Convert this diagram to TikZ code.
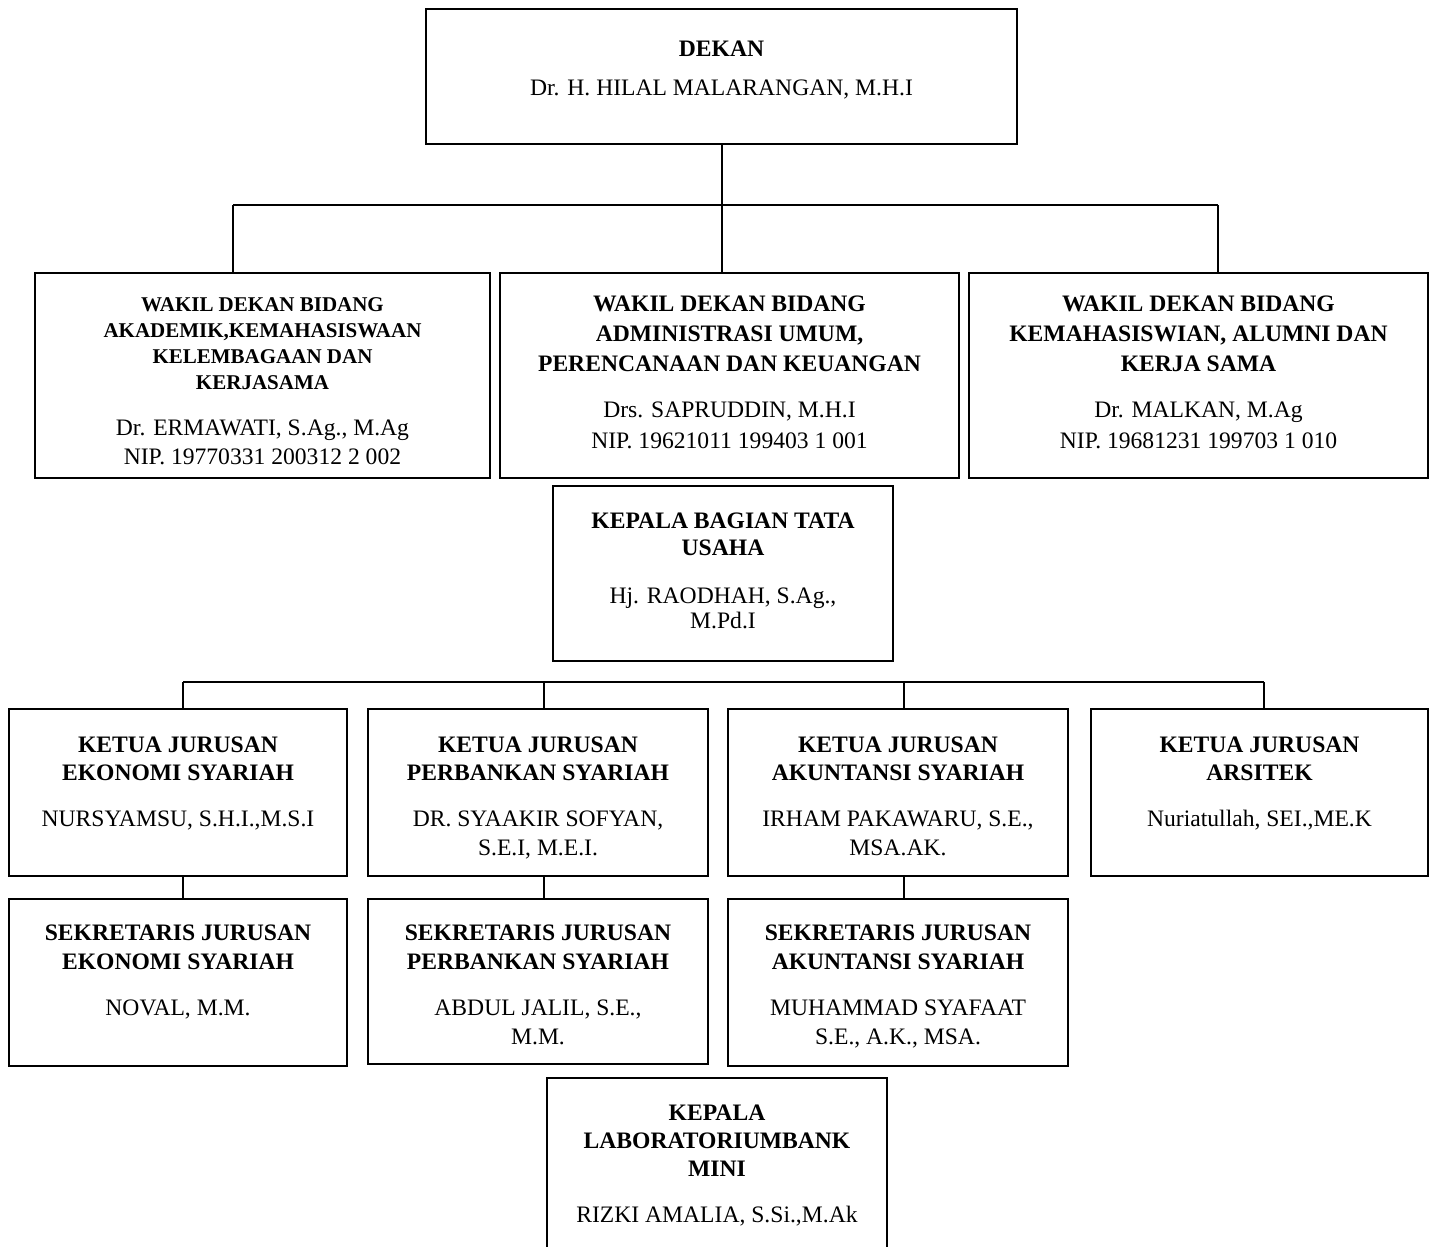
\documentclass[tikz,border=0pt]{standalone}
\usepackage{fontspec}
\setmainfont{Liberation Serif}
\usetikzlibrary{positioning}

% box with text hanging from the top: width, height, first baseline, text
\newcommand{\kotak}[4]{\parbox[c][#2][t]{#1}{\centering\rule{0pt}{#3}#4}}

\begin{document}
\begin{tikzpicture}[x=0.5pt,y=-0.5pt,line width=1pt,
	box/.style={draw,line width=1pt,inner sep=0pt,anchor=north west,
		font=\fontsize{11.8pt}{13pt}\selectfont},
	wire/.style={line width=1pt}]
	\useasboundingbox (0,0) rectangle (1435,1247);
	\clip (0,0) rectangle (1435,1247);

	\node[box] (dekan) at (425,8) {\kotak{295.5pt}{67.5pt}{23.9pt}{%
		\textbf{DEKAN}\\[6.5pt]
		Dr. H. HILAL MALARANGAN, M.H.I}};

	\node[box] (wdA) at (34,272) {\kotak{227.5pt}{102.5pt}{19pt}{%
		{\fontsize{10.5pt}{13pt}\selectfont\bfseries WAKIL DEKAN BIDANG\\
		AKADEMIK,KEMAHASISWAAN\\
		KELEMBAGAAN DAN\\
		KERJASAMA}\\[10.2pt]
		Dr. ERMAWATI, S.Ag., M.Ag\\[1.3pt]
		NIP. 19770331 200312 2 002}};
	\node[box] (wdB) at (499,272) {\kotak{229.5pt}{102.5pt}{19.4pt}{%
		\textbf{WAKIL DEKAN BIDANG\\[2pt]
		ADMINISTRASI UMUM,\\[2pt]
		PERENCANAAN DAN KEUANGAN}\\[10pt]
		Drs. SAPRUDDIN, M.H.I\\[2.3pt]
		NIP. 19621011 199403 1 001}};
	\node[box] (wdC) at (968,272) {\kotak{229.5pt}{102.5pt}{19.4pt}{%
		\textbf{WAKIL DEKAN BIDANG\\[2pt]
		KEMAHASISWIAN, ALUMNI DAN\\[2pt]
		KERJA SAMA}\\[10pt]
		Dr. MALKAN, M.Ag\\[2.3pt]
		NIP. 19681231 199703 1 010}};

	\node[box] (kabag) at (552,485) {\kotak{170pt}{87.5pt}{21pt}{%
		\textbf{KEPALA BAGIAN TATA\\[0.7pt]
		USAHA}\\[11.2pt]
		Hj. RAODHAH, S.Ag.,\\[-0.5pt]
		M.Pd.I}};

	% ketua jurusan
	\node[box] (kj1) at (8,708) {\kotak{169pt}{83.5pt}{21.5pt}{%
		\textbf{KETUA JURUSAN\\[1.2pt]
		EKONOMI SYARIAH}\\[9.8pt]
		NURSYAMSU, S.H.I.,M.S.I}};
	\node[box] (kj2) at (367,708) {\kotak{170pt}{83.5pt}{21.5pt}{%
		\textbf{KETUA JURUSAN\\[1.2pt]
		PERBANKAN SYARIAH}\\[9.8pt]
		DR. SYAAKIR SOFYAN,\\[1.7pt]
		S.E.I, M.E.I.}};
	\node[box] (kj3) at (727,708) {\kotak{170pt}{83.5pt}{21.5pt}{%
		\textbf{KETUA JURUSAN\\[1.2pt]
		AKUNTANSI SYARIAH}\\[9.8pt]
		IRHAM PAKAWARU, S.E.,\\[1.7pt]
		MSA.AK.}};
	\node[box] (kj4) at (1090,708) {\kotak{168.5pt}{83.5pt}{21.5pt}{%
		\textbf{KETUA JURUSAN\\[1.2pt]
		ARSITEK}\\[9.8pt]
		Nuriatullah, SEI.,ME.K}};

	% sekretaris jurusan
	\node[box] (sj1) at (8,898) {\kotak{169pt}{83.5pt}{20.8pt}{%
		\textbf{SEKRETARIS JURUSAN\\[1.6pt]
		EKONOMI SYARIAH}\\[9.9pt]
		NOVAL, M.M.}};
	\node[box] (sj2) at (367,898) {\kotak{170pt}{82.5pt}{20.8pt}{%
		\textbf{SEKRETARIS JURUSAN\\[1.6pt]
		PERBANKAN SYARIAH}\\[9.9pt]
		ABDUL JALIL, S.E.,\\[1.5pt]
		M.M.}};
	\node[box] (sj3) at (727,898) {\kotak{170pt}{83.5pt}{20.8pt}{%
		\textbf{SEKRETARIS JURUSAN\\[1.6pt]
		AKUNTANSI SYARIAH}\\[9.9pt]
		MUHAMMAD SYAFAAT\\[1.5pt]
		S.E., A.K., MSA.}};

	\node[box] (lab) at (546,1077) {\kotak{170pt}{90pt}{21.4pt}{%
		\textbf{KEPALA\\[1pt]
		LABORATORIUMBANK\\[1pt]
		MINI}\\[10pt]
		RIZKI AMALIA, S.Si.,M.Ak}};

	% lines from the dean
	\coordinate (busL) at (233,205);
	\coordinate (busR) at (1218,205);
	\draw[wire] (busL) -- (busR);
	\draw[wire] (dekan.south) -- (dekan.south |- wdB.north);
	\draw[wire] (busL) -- (busL |- wdA.north);
	\draw[wire] (busR) -- (busR |- wdC.north);

	% lines to the departments
	\coordinate (ja) at (183,682);
	\coordinate (jb) at (544,682);
	\coordinate (jc) at (904,682);
	\coordinate (jd) at (1264,682);
	\draw[wire] (ja) -- (jd);
	\foreach \j/\k in {ja/kj1,jb/kj2,jc/kj3,jd/kj4}
		\draw[wire] (\j) -- (\j |- \k.north);
	\foreach \j/\k/\s in {ja/kj1/sj1,jb/kj2/sj2,jc/kj3/sj3}
		\draw[wire] (\k.south -| \j) -- (\s.north -| \j);
\end{tikzpicture}
\end{document}
